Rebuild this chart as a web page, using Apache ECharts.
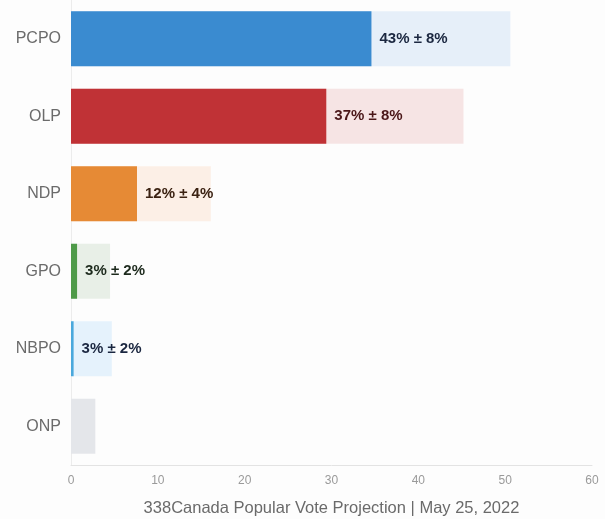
<!DOCTYPE html>
<html>
<head>
<meta charset="utf-8">
<style>
  html, body { margin: 0; padding: 0; background: #fdfdfd; }
  #chart { width: 605px; height: 519px; }
</style>
<script src="https://cdn.jsdelivr.net/npm/echarts@6/dist/echarts.min.js"></script>
</head>
<body>
<div id="chart"></div>
<script>
const parties = ['PCPO', 'OLP', 'NDP', 'GPO', 'NBPO', 'ONP'];
const lowBound = [34.6, 29.4, 7.6, 0.7, 0.3, 0];
const highBound = [50.6, 45.2, 16.1, 4.5, 4.7, 2.8];
const projection = [43, 37, 12, 3, 3, null];
const margin = [8, 8, 4, 2, 2, null];
const solidColors = ['#3a8bd0', '#c03236', '#e68a35', '#4e9a48', '#4aa8dc', '#e4e6ea'];
const lightColors = ['#e6eff9', '#f6e4e4', '#fcefe6', '#e8efe7', '#e5f2fc', '#e4e6ea'];
const labelColors = ['#1b2740', '#4a1618', '#3b2212', '#1d2a1d', '#1b2740', '#333333'];
const axisTitle = '338Canada Popular Vote Projection | May 25, 2022';

const font = "'Liberation Sans', Arial, Helvetica, sans-serif";
const chart = echarts.init(document.getElementById('chart'));
chart.setOption({
  backgroundColor: '#fdfdfd',
  animation: false,
  textStyle: { fontFamily: font },
  grid: { left: 71, right: 13, top: 0, bottom: 54, containLabel: false, outerBoundsMode: 'none' },
  xAxis: {
    type: 'value', min: 0, max: 60, interval: 10,
    axisLine: { show: true, lineStyle: { color: '#e3e3e3', width: 1 } },
    axisTick: { show: false },
    splitLine: { show: false },
    axisLabel: { color: '#9a9a9a', fontSize: 12, margin: 10, fontFamily: font },
    name: axisTitle,
    nameLocation: 'middle',
    nameGap: 35,
    nameTextStyle: { color: '#6a6a6a', fontSize: 16.5, fontFamily: font }
  },
  yAxis: {
    type: 'category', data: parties, inverse: true,
    axisLine: { show: true, lineStyle: { color: '#ececec', width: 1 } },
    axisTick: { show: false },
    axisLabel: { color: '#6b6b6b', fontSize: 16, margin: 10, fontFamily: font }
  },
  series: [
    {
      type: 'bar', name: 'range',
      data: highBound.map((v, i) => ({ value: v, itemStyle: { color: lightColors[i] } })),
      barWidth: 55, barGap: '-100%', silent: true
    },
    {
      type: 'bar', name: 'low',
      data: lowBound.map((v, i) => ({
        value: v,
        itemStyle: { color: solidColors[i] },
        label: {
          show: projection[i] !== null,
          position: 'right', distance: 8,
          color: labelColors[i], fontWeight: 'bold', fontSize: 15, fontFamily: font,
          formatter: () => projection[i] + '% \u00b1 ' + margin[i] + '%'
        }
      })),
      barWidth: 55, barGap: '-100%', silent: true
    }
  ]
});
</script>
</body>
</html>
